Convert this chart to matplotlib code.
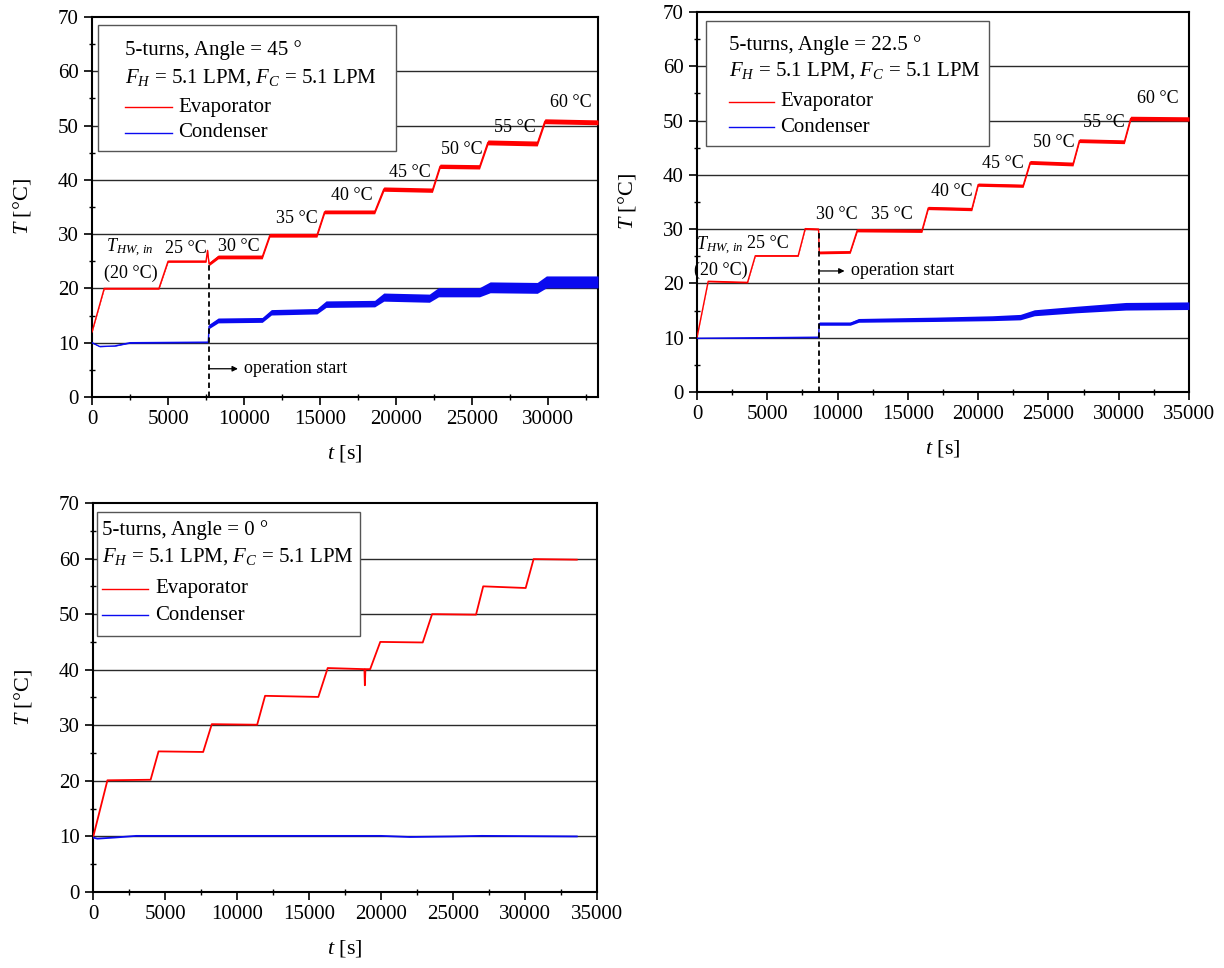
import matplotlib
matplotlib.use("Agg")
import matplotlib.pyplot as plt
from matplotlib.patches import Rectangle
from matplotlib.lines import Line2D
from matplotlib.ticker import MultipleLocator

plt.rcParams["font.family"] = ["Liberation Serif", "DejaVu Serif"]
plt.rcParams["mathtext.fontset"] = "custom"
plt.rcParams["mathtext.rm"] = "Liberation Serif"
plt.rcParams["mathtext.it"] = "Liberation Serif:italic"

# --- 5 turns, 45 deg ---
t45_evap = [0, 800, 4400, 5000, 7500, 7600, 7700, 8300, 11200, 11700, 14800, 15300,
            18600, 19200, 22400, 22900, 25500, 26050, 29300, 29800, 33300]
T45_evap = [12, 20, 20, 25, 25, 27, 24.5, 25.8, 25.8, 29.8, 29.8, 34.1,
            34.1, 38.3, 38.1, 42.5, 42.4, 46.9, 46.7, 50.8, 50.6]
w45_evap = [0.1, 0.15, 0.15, 0.2, 0.2, 0.2, 0.3, 0.35, 0.35, 0.35, 0.35, 0.35,
            0.35, 0.4, 0.4, 0.4, 0.4, 0.45, 0.45, 0.45, 0.45]
t45_cond = [0, 500, 1500, 2500, 7650, 7700, 8300, 11200, 11800, 14800, 15400, 18600,
            19200, 22200, 22800, 25500, 26200, 29300, 29900, 33300]
T45_cond = [10, 9.3, 9.4, 10, 10.1, 13.0, 14.1, 14.2, 15.6, 15.8, 17.1, 17.2,
            18.4, 18.2, 19.3, 19.3, 20.2, 20.1, 21.2, 21.2]
w45_cond = [0.05, 0.05, 0.05, 0.1, 0.1, 0.4, 0.45, 0.45, 0.5, 0.5, 0.6, 0.6,
            0.75, 0.75, 0.85, 0.85, 1.0, 1.0, 1.1, 1.1]
lab45 = ["25 °C", "30 °C", "35 °C", "40 °C", "45 °C", "50 °C", "55 °C", "60 °C"]
lab45_t = [6180, 9670, 13490, 17100, 20900, 24340, 27830, 31500]
lab45_T = [27.4, 27.8, 32.9, 37.1, 41.4, 45.6, 49.7, 54.3]

# --- 5 turns, 22.5 deg ---
t22_evap = [0, 800, 3600, 4150, 7200, 7700, 8650, 8700, 10900, 11400, 16000, 16450,
            19550, 20000, 23200, 23700, 26750, 27200, 30400, 30850, 35000]
T22_evap = [10, 20.4, 20.2, 25.1, 25.1, 30.1, 30.0, 25.7, 25.8, 29.8, 29.7, 33.9,
            33.7, 38.2, 38.0, 42.3, 42.0, 46.3, 46.1, 50.4, 50.3]
w22_evap = [0.05, 0.1, 0.1, 0.1, 0.1, 0.15, 0.15, 0.25, 0.25, 0.3, 0.3, 0.3,
            0.3, 0.3, 0.3, 0.35, 0.35, 0.35, 0.35, 0.4, 0.4]
t22_cond = [0, 8650, 8700, 10900, 11500, 17000, 21000, 23000, 24000, 27000, 30500, 35000]
T22_cond = [9.9, 10.1, 12.6, 12.6, 13.2, 13.4, 13.6, 13.8, 14.6, 15.2, 15.8, 15.9]
w22_cond = [0.05, 0.1, 0.3, 0.3, 0.35, 0.4, 0.45, 0.5, 0.55, 0.6, 0.7, 0.7]
lab22 = ["25 °C", "30 °C", "35 °C", "40 °C", "45 °C", "50 °C", "55 °C", "60 °C"]
lab22_t = [5010, 9960, 13870, 18140, 21760, 25390, 28950, 32790]
lab22_T = [27.3, 32.7, 32.7, 37.0, 42.1, 45.9, 49.7, 54.1]

# --- 5 turns, 0 deg ---
t0_evap = [0, 1000, 4000, 4550, 7650, 8250, 11400, 11950, 15650, 16300, 18850, 18880,
           18920, 19250, 19950, 22900, 23550, 26600, 27100, 30050, 30600, 33600]
T0_evap = [9.8, 20.1, 20.2, 25.3, 25.2, 30.2, 30.1, 35.3, 35.1, 40.3, 40.1, 37.2,
           40.1, 40.1, 45.0, 44.9, 50.0, 49.9, 55.0, 54.7, 59.9, 59.8]
t0_cond = [0, 300, 1500, 3000, 20000, 22000, 25000, 27000, 33600]
T0_cond = [9.8, 9.6, 9.8, 10.1, 10.1, 9.9, 10.0, 10.1, 10.0]

RED = "#ff0000"
BLUE = "#0a0af0"
FS = 15
FS_NOTE = 13


def band(ax, t, T, w, color):
    lo = [a - b for a, b in zip(T, w)]
    hi = [a + b for a, b in zip(T, w)]
    ax.fill_between(t, lo, hi, color=color, lw=0, zorder=3)
    ax.plot(t, T, color=color, lw=1.0, zorder=3)


def setup(ax, xmax):
    ax.set_xlim(0, xmax)
    ax.set_ylim(0, 70)
    ax.xaxis.set_major_locator(MultipleLocator(5000))
    ax.xaxis.set_minor_locator(MultipleLocator(2500))
    ax.yaxis.set_major_locator(MultipleLocator(10))
    ax.yaxis.set_minor_locator(MultipleLocator(5))
    ax.tick_params(which="major", direction="out", length=6, width=1.2, labelsize=FS)
    ax.tick_params(which="minor", direction="inout", length=5, width=1.0)
    for s in ax.spines.values():
        s.set_linewidth(1.5)
    for y in range(10, 70, 10):
        ax.axhline(y, color="#2a2a2a", lw=1.0, zorder=1)
    ax.set_xlabel("$t$ [s]", fontsize=FS + 1, labelpad=10)
    ax.set_ylabel("$T$ [°C]", fontsize=FS + 1, labelpad=18)


def info_box(ax, angle, x0, x1, y0, y1, tx, ys, hx1, lx):
    ax.add_patch(Rectangle((x0, y0), x1 - x0, y1 - y0, transform=ax.transAxes,
                           facecolor="white", edgecolor="#555555", lw=1.0, zorder=5))
    kw = dict(transform=ax.transAxes, fontsize=FS, va="center", ha="left", zorder=6)
    ax.text(tx, ys[0], f"5-turns, Angle = {angle} °", **kw)
    ax.text(tx, ys[1], "$F_H$ = 5.1 LPM, $F_C$ = 5.1 LPM", **kw)
    ax.add_line(Line2D([tx, hx1], [ys[2], ys[2]], transform=ax.transAxes,
                       color=RED, lw=1.0, zorder=6))
    ax.add_line(Line2D([tx, hx1], [ys[3], ys[3]], transform=ax.transAxes,
                       color=BLUE, lw=1.0, zorder=6))
    ax.text(lx, ys[2], "Evaporator", **kw)
    ax.text(lx, ys[3], "Condenser", **kw)


def op_start(ax, t0, ytop, ya, t_arrow, t_text):
    ax.plot([t0, t0], [0, ytop], color="black", lw=1.3, ls=(0, (3, 2)), zorder=4)
    ax.annotate("", xy=(t_arrow, ya), xytext=(t0, ya),
                arrowprops=dict(arrowstyle="-|>", color="black", lw=0.9,
                                mutation_scale=8, shrinkA=0, shrinkB=0), zorder=4)
    ax.text(t_text, ya, "operation start", fontsize=FS_NOTE, va="center", ha="left")


def step_labels(ax, labels, ts, Ts):
    for s, t, T in zip(labels, ts, Ts):
        ax.text(t, T, s, fontsize=FS_NOTE, ha="center", va="center", zorder=4)


fig = plt.figure(figsize=(12.24, 9.68), dpi=100)

# 45 deg
ax1 = fig.add_axes([0.0752, 0.5899, 0.4134, 0.3925])
setup(ax1, 33300)
band(ax1, t45_evap, T45_evap, w45_evap, RED)
band(ax1, t45_cond, T45_cond, w45_cond, BLUE)
op_start(ax1, 7700, 24.6, 5.2, 9600, 10000)
step_labels(ax1, lab45, lab45_t, lab45_T)
ax1.text(2500, 27.4, r"$T_{HW,\,in}$", fontsize=FS_NOTE, ha="center", va="center")
ax1.text(2560, 22.7, "(20 °C)", fontsize=FS_NOTE, ha="center", va="center")
info_box(ax1, "45", 0.012, 0.601, 0.647, 0.979, 0.065,
         [0.913, 0.842, 0.763, 0.695], 0.158, 0.170)

# 22.5 deg
ax2 = fig.add_axes([0.5694, 0.595, 0.402, 0.3926])
setup(ax2, 35000)
band(ax2, t22_evap, T22_evap, w22_evap, RED)
band(ax2, t22_cond, T22_cond, w22_cond, BLUE)
op_start(ax2, 8680, 29.8, 22.3, 10500, 10950)
step_labels(ax2, lab22, lab22_t, lab22_T)
ax2.text(1600, 27.0, r"$T_{HW,\,in}$", fontsize=FS_NOTE, ha="center", va="center")
ax2.text(1670, 22.5, "(20 °C)", fontsize=FS_NOTE, ha="center", va="center")
info_box(ax2, "22.5", 0.018, 0.593, 0.647, 0.977, 0.065,
         [0.913, 0.847, 0.764, 0.697], 0.157, 0.169)

# 0 deg
ax3 = fig.add_axes([0.076, 0.0785, 0.4117, 0.4019])
setup(ax3, 35000)
ax3.plot(t0_evap, T0_evap, color=RED, lw=1.3, zorder=3)
ax3.plot(t0_cond, T0_cond, color=BLUE, lw=1.3, zorder=3)
info_box(ax3, "0", 0.008, 0.530, 0.659, 0.978, 0.017,
         [0.931, 0.862, 0.780, 0.711], 0.109, 0.123)

fig.savefig("out.png", dpi=100)
